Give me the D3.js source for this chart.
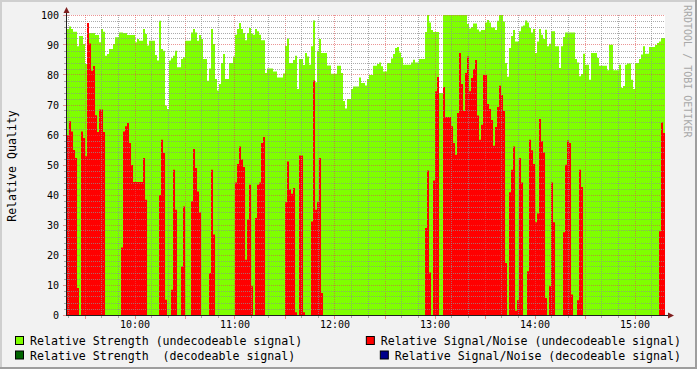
<!DOCTYPE html>
<html>
<head>
<meta charset="utf-8">
<script src="https://cdn.jsdelivr.net/npm/d3@7"></script>
<style>
body { margin: 0; background: #f2f2f2; }
svg { display: block; }
text { font-family: "DejaVu Sans Mono", monospace; fill: #000; }
</style>
</head>
<body>
<svg id="chart" width="697" height="369"></svg>
<script>
'use strict';

/* time span of the graph, one sample every 72 seconds */
var startTime = new Date(2024, 0, 1, 9, 19, 12);
var endTime = new Date(2024, 0, 1, 15, 18, 0);
var stepSeconds = 72;

/* Relative Strength (undecodeable signal) */
var strengthUndecodeable = [
    95.3, 96.2, 95.3, 94.4, 94.4, 89.6, 93, 93, 90.3, 83.7,
    94, 94, 94, 94, 93.3, 93.3, 90.9, 95.3, 94.4, 86.4,
    87, 88.7, 88.7, 90.3, 92.6, 92.6, 94.2, 94.2, 94, 94,
    93.3, 93.3, 93.3, 93.3, 90.9, 92, 91.4, 91.4, 95.3, 93.7,
    89.8, 91.4, 91.4, 91.4, 86.7, 84.8, 98.1, 88.7, 88.1, 69.8,
    68.7, 84.8, 85.6, 86.4, 88.1, 82.6, 82.6, 85.3, 85.9, 91.4,
    91.4, 91.4, 94.2, 95.3, 94.2, 91.4, 93.3, 92, 85.3, 85.3,
    78.1, 82.2, 95.3, 90.3, 78.7, 74.8, 77, 84, 87, 78.7,
    78.7, 84, 84, 86.2, 93.4, 95.3, 97.3, 95.3, 94, 91.6,
    94, 95.7, 93.8, 93.4, 95.3, 94.6, 93.4, 91.6, 91.6, 80.7,
    82.2, 82.2, 82.2, 81.2, 81.2, 79.2, 79.2, 79.2, 80.5, 89.7,
    92.2, 84, 84, 85, 86.4, 75.3, 85.3, 85.3, 83.3, 87.3,
    86.2, 83.4, 89.6, 98.2, 77.6, 88.1, 92, 87.3, 87.3, 87.3,
    83.2, 83.2, 80.4, 80.4, 80.4, 83.1, 83.1, 80.7, 71.3, 68.8,
    72, 72, 75.3, 76.2, 76.2, 76.2, 79.2, 77.3, 77.3, 76.5,
    78.7, 80, 80, 83.1, 83.1, 83.7, 84.2, 82.9, 81.2, 81.2,
    84, 84, 85.5, 87, 89, 89.3, 87.5, 85.8, 83.4, 83.4,
    83.4, 83.4, 84.2, 85.1, 84.2, 84.2, 85.3, 85.3, 85.3, 94.3,
    100, 97.5, 95, 94.3, 94.3, 94.3, 74, 74, 100, 100,
    100, 100, 100, 100, 100, 100, 100, 100, 100, 100,
    97, 95.5, 96, 97.2, 97.2, 95.2, 94.5, 95, 95, 97.5,
    98.3, 97.5, 95.8, 95.8, 95, 98.1, 100, 100, 97.8, 84,
    79.4, 89, 93, 95, 91.2, 91.2, 94.6, 96.2, 96.5, 98.2,
    97.5, 95.7, 94.2, 95.3, 87.3, 91.2, 95.3, 93.4, 92, 95.1,
    89.6, 90.4, 94.6, 94.6, 89.6, 89.6, 82.3, 89.6, 92.7, 94.2,
    94.2, 94.2, 94.2, 94.2, 85.3, 84.2, 79.6, 80.3, 87.1, 83.4,
    83.4, 78.4, 87.3, 87.3, 87.3, 85.7, 83.1, 83.1, 83.1, 83.1,
    81.6, 90.1, 90.1, 81.6, 81.6, 81.6, 83.4, 75.7, 76.3, 83.4,
    83.8, 83.8, 78.4, 75.3, 84, 84, 85.3, 86.8, 89.6, 87.1,
    87.1, 89.3, 89.3, 89.3, 90, 90.7, 91.2, 92.3, 92.3, 92.3
];

/* Relative Signal/Noise (undecodeable signal) */
var snrUndecodeable = [
    60, 64.6, 61.2, 55, 52.3, 9, 0, 61.2, 59, 52.9,
    97.3, 90.5, 81.4, 83, 66.6, 61, 68.5, 68.5, 61, 0,
    0, 0, 0, 0, 0, 0, 0, 22.5, 61.2, 62.9,
    64, 57.3, 50, 44.3, 44.3, 44.3, 44.3, 44.3, 52.3, 38.4,
    0, 0, 0, 0, 0, 0, 40, 58.4, 54, 5.1,
    0, 0, 8.4, 48.4, 35.1, 0, 0, 16.2, 36.2, 0,
    0, 0, 37.9, 55.3, 49, 41.2, 34.2, 0, 0, 0,
    0, 14, 48.4, 26.8, 0, 0, 0, 0, 0, 0,
    0, 0, 0, 0, 44.2, 50.3, 56.2, 51.8, 49.3, 18.4,
    31.8, 43.4, 9.6, 0, 32.3, 43.4, 44.2, 57.3, 59.3, 0,
    0, 0, 0, 0, 0, 0, 0, 0, 0, 37.6,
    51.2, 41.8, 40.4, 42.3, 0.9, 0, 53.2, 53.2, 0.9, 0,
    0, 0, 31.2, 78.2, 35.1, 37.6, 52.3, 7.3, 0, 0,
    0, 0, 0, 0, 0, 0, 0, 0, 0, 0,
    0, 0, 0, 0, 0, 0, 0, 0, 0, 0,
    0, 0, 0, 0, 0, 0, 0, 0, 0, 0,
    0, 0, 0, 0, 0, 0, 0, 0, 0, 0,
    0, 0, 0, 0, 0, 0, 0, 0, 0, 29,
    48.2, 14.2, 0, 44.8, 74.6, 79.3, 0, 0, 76, 66,
    66, 66, 62.9, 57.3, 53.4, 67.3, 87.3, 77, 68, 80.7,
    86.2, 74.6, 79, 82, 85, 66.5, 58.4, 63.4, 80, 80,
    70.3, 68.7, 65, 56.4, 62.7, 69.3, 76.4, 73.3, 68, 17.3,
    0, 40.9, 48.4, 56.2, 1.4, 4.9, 52.3, 44.2, 0, 0,
    14.6, 58.4, 54.9, 50.3, 30.9, 33.8, 65.3, 57.9, 54.2, 5.7,
    0, 9.6, 44.2, 30.9, 0, 0, 0, 0, 27.6, 50.1,
    58.2, 57.3, 6.8, 0, 0, 4.9, 48.4, 42.7, 0, 0,
    0, 0, 0, 0, 0, 0, 0, 0, 0, 0,
    0, 0, 0, 0, 0, 0, 0, 0, 0, 0,
    0, 0, 0, 0, 0, 0, 0, 0, 0, 0,
    0, 0, 0, 0, 0, 0, 27.9, 64.2, 60.7, 58.2
];

var yTickValues = [0, 10, 20, 30, 40, 50, 60, 70, 80, 90, 100];
var legendLabels = [
    'Relative Strength (undecodeable signal)',
    'Relative Signal/Noise (undecodeable signal)',
    'Relative Strength  (decodeable signal)',
    'Relative Signal/Noise (decodeable signal)'
];
var legendColors = ['#7fff00', '#ff0000', '#006400', '#00008b'];

var W = 697, H = 369;
var plotLeft = 67, plotRight = 665, plotTop = 15, plotBottom = 315;

var svg = d3.select('#chart');

/* background with rrdtool style shaded frame */
svg.append('rect').attr('width', W).attr('height', H).attr('fill', '#f2f2f2');
svg.append('path').attr('d', 'M0,0H' + W + 'V2H2V' + H + 'H0Z').attr('fill', '#cfcfcf');
svg.append('path').attr('d', 'M' + W + ',' + H + 'H0V' + (H - 2) + 'H' + (W - 2) + 'V0H' + W + 'Z').attr('fill', '#9e9e9e');
svg.append('rect').attr('x', plotLeft).attr('y', plotTop)
    .attr('width', plotRight - plotLeft).attr('height', plotBottom - plotTop).attr('fill', '#fff');

var x = d3.scaleTime().domain([startTime, endTime]).range([plotLeft, plotRight]);
var y = d3.scaleLinear().domain([0, 100]).range([plotBottom, plotTop]);

function toSeries(values) {
    var pts = values.map(function(v, i) {
        return { t: new Date(startTime.getTime() + i * stepSeconds * 1000), v: v };
    });
    pts.push({ t: new Date(startTime.getTime() + values.length * stepSeconds * 1000), v: values[values.length - 1] });
    return pts;
}

svg.append('clipPath').attr('id', 'plotclip')
    .append('rect').attr('x', plotLeft).attr('y', 0).attr('width', plotRight - plotLeft).attr('height', plotBottom);

var area = d3.area()
    .x(function(d) { return x(d.t); })
    .y0(y(0))
    .y1(function(d) { return y(d.v); })
    .curve(d3.curveStepAfter);

var plot = svg.append('g').attr('clip-path', 'url(#plotclip)');
plot.append('path').datum(toSeries(strengthUndecodeable)).attr('d', area).attr('fill', legendColors[0]);
plot.append('path').datum(toSeries(snrUndecodeable)).attr('d', area).attr('fill', legendColors[1]);

/* grid, drawn over the data like rrdtool does */
var minorCol = 'rgba(143,143,143,0.75)';
var majorCol = 'rgba(222,79,79,0.6)';
var grid = svg.append('g').attr('shape-rendering', 'crispEdges');

d3.timeMinute.every(10).range(startTime, endTime).forEach(function(t) {
    var major = t.getMinutes() % 30 === 0;
    var px = Math.floor(x(t)) + 0.5;
    grid.append('line').attr('x1', px).attr('x2', px).attr('y1', plotTop).attr('y2', plotBottom)
        .attr('stroke', major ? majorCol : minorCol).attr('stroke-dasharray', '1,1');
    grid.append('line').attr('x1', px).attr('x2', px).attr('y1', plotBottom + 1).attr('y2', plotBottom + (major ? 4 : 3))
        .attr('stroke', major ? majorCol : minorCol);
});

d3.range(0, 101, 2).forEach(function(v) {
    var major = v % 10 === 0;
    var py = Math.floor(y(v)) + 0.5;
    if (v > 0) {
        grid.append('line').attr('x1', plotLeft).attr('x2', plotRight).attr('y1', py).attr('y2', py)
            .attr('stroke', major ? majorCol : minorCol).attr('stroke-dasharray', '1,1');
    }
    grid.append('line').attr('x1', plotLeft - (major ? 4 : 3)).attr('x2', plotLeft - 1).attr('y1', py).attr('y2', py)
        .attr('stroke', major ? majorCol : minorCol);
});

/* axes with arrows */
var axisCol = '#1f1f1f', arrowCol = '#801f1f';
svg.append('line').attr('x1', plotLeft - 0.5).attr('x2', plotLeft - 0.5).attr('y1', plotBottom + 1).attr('y2', 12)
    .attr('stroke', axisCol).attr('shape-rendering', 'crispEdges');
svg.append('line').attr('x1', plotLeft - 1).attr('x2', 669).attr('y1', plotBottom + 0.5).attr('y2', plotBottom + 0.5)
    .attr('stroke', axisCol).attr('shape-rendering', 'crispEdges');
svg.append('path').attr('d', 'M' + (plotLeft - 0.5) + ',7L' + (plotLeft + 2.5) + ',13L' + (plotLeft - 3.5) + ',13Z')
    .attr('fill', arrowCol);
svg.append('path').attr('d', 'M674,' + (plotBottom + 0.5) + 'L668,' + (plotBottom - 2.5) + 'L668,' + (plotBottom + 3.5) + 'Z')
    .attr('fill', arrowCol);

/* tick labels */
yTickValues.forEach(function(v) {
    svg.append('text').attr('x', 59).attr('y', y(v) + 0.5).attr('dy', '0.35em')
        .attr('text-anchor', 'end').style('font-size', '10px').text(v);
});
d3.timeHour.every(1).range(startTime, endTime).forEach(function(t) {
    svg.append('text').attr('x', x(t)).attr('y', 328).attr('text-anchor', 'middle')
        .style('font-size', '10px').text(d3.timeFormat('%H:%M')(t));
});

/* axis title and watermark */
svg.append('text').attr('transform', 'translate(16,166) rotate(-90)').attr('text-anchor', 'middle')
    .style('font-size', '11.6px').text('Relative Quality');
svg.append('text').attr('transform', 'translate(684,5) rotate(90)').attr('text-anchor', 'start')
    .style('font-size', '10px').style('fill', '#a8a8a8').text('RRDTOOL / TOBI OETIKER');

/* legend */
var legendRows = [345, 359.5];
legendLabels.forEach(function(label, i) {
    var row = Math.floor(i / 2), col = i % 2;
    var t = svg.append('text').attr('y', legendRows[row]).attr('xml:space', 'preserve')
        .style('font-size', '11.6px').style('white-space', 'pre').text(label);
    var tx;
    if (col === 0) {
        tx = 30;
        t.attr('x', tx);
    } else {
        t.attr('x', 681).attr('text-anchor', 'end');
        tx = 681 - t.node().getComputedTextLength();
    }
    svg.append('rect').attr('x', tx - 14.5).attr('y', legendRows[row] - 8.5).attr('width', 8).attr('height', 8)
        .attr('fill', legendColors[i]).attr('stroke', '#000').attr('stroke-width', 1);
});
</script>
</body>
</html>
